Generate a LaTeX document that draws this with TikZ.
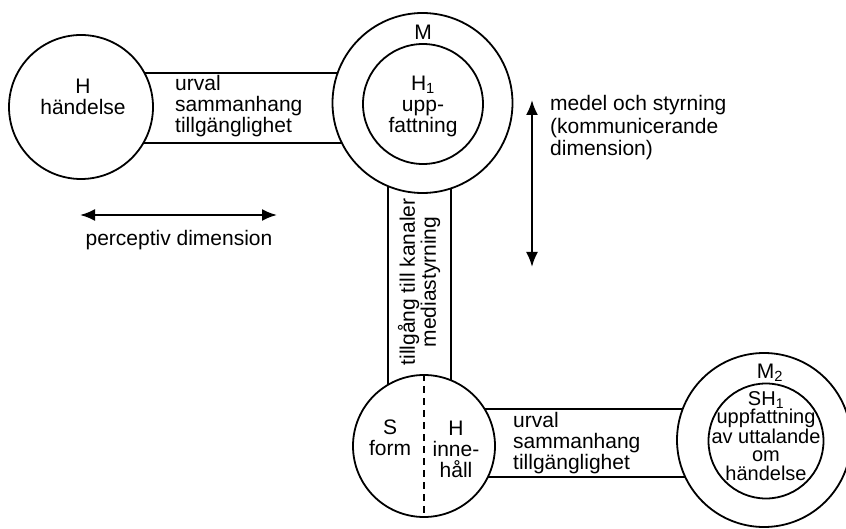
\documentclass[tikz,border=0pt]{standalone}
\usepackage{fontspec}
\setmainfont{Liberation Sans}
\usetikzlibrary{arrows.meta}
\tikzset{
  ring/.style={circle, draw, line width=1.8pt, fill=white, inner sep=0pt},
  band/.style={draw, line width=1.8pt, fill=white},
  lbl/.style={inner sep=0pt, font=\fontsize{21}{21}\selectfont},
  dimarrow/.style={line width=2.2pt, {Latex[length=15pt,width=12pt]}-{Latex[length=15pt,width=12pt]}},
  divide/.style={line width=1.4pt, dash pattern=on 7pt off 5pt}
}
\begin{document}
\begin{tikzpicture}[x=1pt,y=-1pt]
\useasboundingbox (0,0) rectangle (846,529);
% bands
\draw[band] (130,73) rectangle (360,143);
\draw[band] (388,170) rectangle (451,400);
\draw[band] (470,409) rectangle (700,477);
% circles
\node[ring, minimum size=144pt] (H) at (81,107) {};
\node[ring, minimum size=180pt] (M) at (422.5,103) {};
\node[ring, minimum size=120pt] (Mi) at (423,104) {};
\node[ring, minimum size=142pt] (SH) at (424,446) {};
\node[ring, minimum size=174pt] (M2) at (764,440) {};
\node[ring, minimum size=115pt] (M2i) at (766,441) {};
\draw[divide] (SH.north) -- (SH.south);
% arrows
\coordinate (pl) at (80,215);
\coordinate (pr) at (277,215);
\coordinate (vt) at (532,100);
\coordinate (vb) at (532,267);
\draw[dimarrow] (pl) -- (pr);
\draw[dimarrow] (vt) -- (vb);
% texts
\node[lbl, align=center] (tH) at (83,96.5) {H\\händelse};
\node[lbl, align=left, anchor=west] (tB1) at (175,106.5) {urval\\sammanhang\\tillgänglighet};
\node[lbl] (tM) at (423,32) {M};
\node[lbl, align=center] (tMi) at (423,106) {H\textsubscript{1}\\upp-\\fattning};
\node[lbl, align=center, rotate=90] (tV) at (419,282) {tillgång till kanaler\\mediastyrning};
\node[lbl, align=center] (tS) at (390,437.5) {S\\form};
\node[lbl, align=center] (tHi) at (456,449) {H\\inne-\\håll};
\node[lbl, align=left, anchor=west] (tB2) at (513,443) {urval\\sammanhang\\tillgänglighet};
\node[lbl] (tM2) at (770,373) {M\textsubscript{2}};
\node[lbl, align=center, font=\fontsize{20}{18.5}\selectfont] (tM2i) at (766,436) {SH\textsubscript{1}\\uppfattning\\av uttalande\\om\\händelse};
\node[lbl, align=left, anchor=west, font=\fontsize{21}{22.5}\selectfont] (tmedel) at (550,128) {medel och styrning\\(kommunicerande\\dimension)};
\node[lbl] (tperc) at (179,240) {perceptiv dimension};
\end{tikzpicture}
\end{document}
